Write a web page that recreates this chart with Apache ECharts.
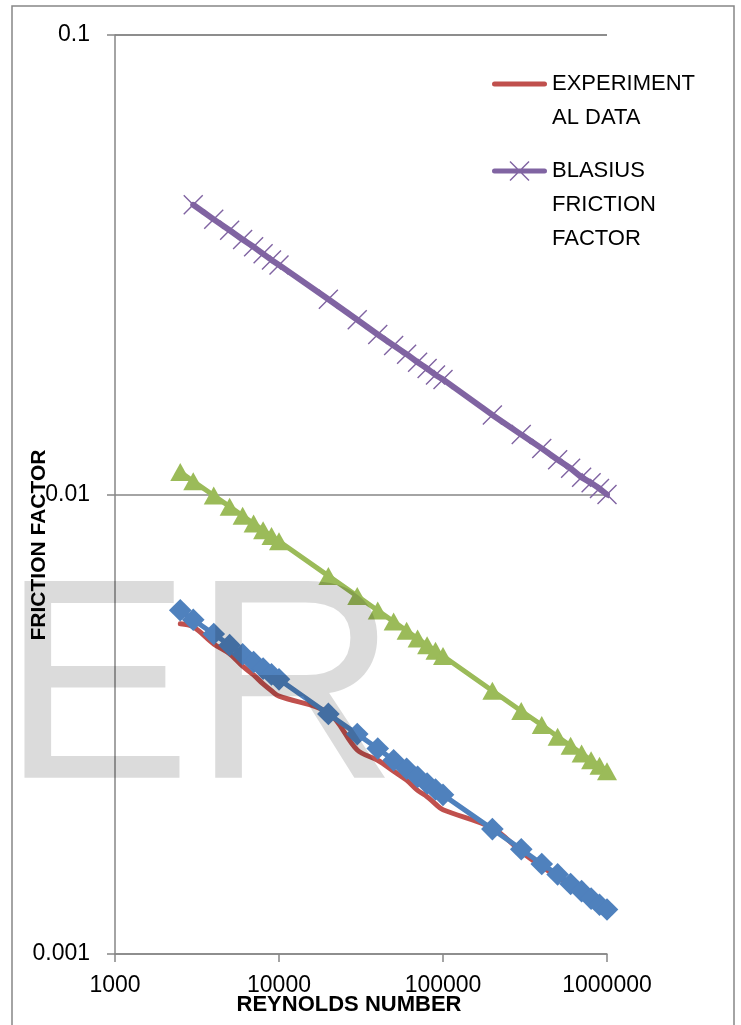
<!DOCTYPE html>
<html>
<head>
<meta charset="utf-8">
<script src="https://cdn.jsdelivr.net/npm/echarts@6/dist/echarts.min.js"></script>
<style>
html,body{margin:0;padding:0;background:#fff;}
#chart{width:741px;height:1025px;}
</style>
</head>
<body>
<div id="chart"></div>
<script>
// Reynolds numbers (x)
const reynolds = [2500, 3000, 4000, 5000, 6000, 7000, 8000, 9000, 10000,
  20000, 30000, 40000, 50000, 60000, 70000, 80000, 90000, 100000,
  200000, 300000, 400000, 500000, 600000, 700000, 800000, 900000, 1000000];
// Experimental data (red, smooth line)
const experimental = [0.00523, 0.00515, 0.00473, 0.00450, 0.00423, 0.00405, 0.00387, 0.00374, 0.00364,
  0.00335, 0.00278, 0.00264, 0.00250, 0.00239, 0.00227, 0.00220, 0.00212, 0.00206,
  0.00188, 0.00167, 0.00155, 0.00147, 0.00141, 0.00136, 0.00131, 0.00127, 0.00124];
// Blasius friction factor (purple, starts at Re = 3000)
const blasiusRe = [3000, 4000, 5000, 6000, 7000, 8000, 9000, 10000,
  20000, 30000, 40000, 50000, 60000, 70000, 80000, 90000, 100000,
  200000, 300000, 400000, 500000, 600000, 700000, 800000, 900000, 1000000];
const blasius = [0.0427, 0.0397, 0.0376, 0.0359, 0.0346, 0.0334, 0.0324, 0.0316,
  0.0266, 0.0240, 0.0223, 0.0211, 0.0202, 0.0194, 0.0188, 0.0182, 0.0178,
  0.0149, 0.0135, 0.0126, 0.0119, 0.0114, 0.0109, 0.0106, 0.0103, 0.0100];
// Green triangles series
const seriesGreen = [0.01119, 0.01069, 0.00995, 0.00941, 0.00899, 0.00865, 0.00836, 0.00812, 0.00791,
  0.00665, 0.00601, 0.00559, 0.00529, 0.00505, 0.00486, 0.00470, 0.00457, 0.00445,
  0.00374, 0.00338, 0.00315, 0.00297, 0.00284, 0.00273, 0.00264, 0.00257, 0.00250];
// Blue diamonds series
const seriesBlue = [0.00560, 0.00534, 0.00497, 0.00470, 0.00449, 0.00432, 0.00418, 0.00406, 0.00396,
  0.00333, 0.00301, 0.00280, 0.00264, 0.00253, 0.00243, 0.00235, 0.00228, 0.00222,
  0.00187, 0.00169, 0.00157, 0.00149, 0.00142, 0.00137, 0.00132, 0.00128, 0.00125];

const xTickLabels = ['1000', '10000', '100000', '1000000'];
const yTickLabels = ['0.001', '0.01', '0.1'];

const pair = (xs, ys) => xs.map((x, i) => [x, ys[i]]);

const FONT = '"Liberation Sans", Arial, sans-serif';
const GRAY = '#868686';
const xSymbol = 'path://M1,0 L10,9 L19,0 L20,1 L11,10 L20,19 L19,20 L10,11 L1,20 L0,19 L9,10 L0,1 Z';
const lineIcon = 'path://M2.5,0 L52.5,0 A2.5,2.5 0 0 1 52.5,5 L2.5,5 A2.5,2.5 0 0 1 2.5,0 Z';
const lineXIcon = 'path://M2.5,7.5 L52.5,7.5 A2.5,2.5 0 0 1 52.5,12.5 L2.5,12.5 A2.5,2.5 0 0 1 2.5,7.5 Z ' +
  'M18.5,0 L27.5,9 L36.5,0 L37.5,1 L28.5,10 L37.5,19 L36.5,20 L27.5,11 L18.5,20 L17.5,19 L26.5,10 L17.5,1 Z ' +
  'M0,10 L0.01,10 L0.01,10.01 Z M55,10 L54.99,10 L54.99,10.01 Z';

const chart = echarts.init(document.getElementById('chart'), null, {renderer: 'canvas'});
chart.setOption({
  animation: false,
  backgroundColor: '#ffffff',
  grid: {left: 115, right: 134, top: 35, bottom: 71, containLabel: false},
  xAxis: {
    type: 'log', logBase: 10, min: 1000, max: 1000000, interval: 1,
    axisLine: {show: true, lineStyle: {color: GRAY, width: 1.5}},
    axisTick: {show: true, inside: false, length: 8, lineStyle: {color: GRAY, width: 1.5}},
    axisLabel: {
      margin: 20, color: '#000', fontSize: 23, fontFamily: FONT,
      formatter: v => { const k = Math.round(Math.log10(v)) - 3; return xTickLabels[k] !== undefined ? xTickLabels[k] : ''; }
    },
    splitLine: {show: false},
    minorTick: {show: false}
  },
  yAxis: {
    type: 'log', logBase: 10, min: 0.001, max: 0.1, interval: 1,
    axisLine: {show: true, lineStyle: {color: GRAY, width: 1.5}},
    axisTick: {show: true, inside: false, length: 8, lineStyle: {color: GRAY, width: 1.5}},
    axisLabel: {
      margin: 25, color: '#000', fontSize: 23, fontFamily: FONT,
      formatter: v => { const k = Math.round(Math.log10(v)) + 3; return yTickLabels[k] !== undefined ? yTickLabels[k] : ''; }
    },
    splitLine: {show: true, lineStyle: {color: GRAY, width: 1.5}}
  },
  legend: [
    {
      data: [{name: 'EXPERIMENTAL DATA', icon: lineIcon}], orient: 'vertical', left: 487, top: 28,
      itemWidth: 55, itemHeight: 5, itemGap: 0,
      formatter: () => '\nEXPERIMENT\nAL DATA',
      textStyle: {fontSize: 22, fontFamily: FONT, color: '#000', lineHeight: 34}
    },
    {
      data: [{name: 'BLASIUS FRICTION FACTOR', icon: lineXIcon}], orient: 'vertical', left: 487, top: 81,
      itemWidth: 55, itemHeight: 20, itemGap: 0,
      formatter: () => '\n\nBLASIUS\nFRICTION\nFACTOR',
      textStyle: {fontSize: 22, fontFamily: FONT, color: '#000', lineHeight: 34}
    }
  ],
  series: [
    {
      name: 'EXPERIMENTAL DATA', type: 'line', smooth: 0.35, symbol: 'none',
      data: pair(reynolds, experimental),
      lineStyle: {color: '#C0504D', width: 5, cap: 'round', join: 'round'},
      itemStyle: {color: '#C0504D'}, z: 2
    },
    {
      name: 'BLASIUS FRICTION FACTOR', type: 'line', symbol: xSymbol, symbolSize: 20,
      data: pair(blasiusRe, blasius),
      lineStyle: {color: '#8064A2', width: 6, cap: 'round'},
      itemStyle: {color: '#8064A2'}, z: 3
    },
    {
      name: 'Series3', type: 'line', symbol: 'triangle', symbolSize: [20, 18],
      data: pair(reynolds, seriesGreen),
      lineStyle: {color: '#9BBB59', width: 5},
      itemStyle: {color: '#9BBB59'}, z: 4
    },
    {
      name: 'Series4', type: 'line', symbol: 'rect', symbolSize: 16, symbolRotate: 45,
      data: pair(reynolds, seriesBlue),
      lineStyle: {color: '#4F81BD', width: 5},
      itemStyle: {color: '#4F81BD'}, z: 5
    }
  ],
  graphic: [
    {
      type: 'rect', silent: true, z: -10,
      shape: {x: 12, y: 6, width: 722, height: 1040},
      style: {fill: 'none', stroke: GRAY, lineWidth: 1.5}
    },
    {
      type: 'text', silent: true, z: 50,
      x: 39, y: 545, rotation: Math.PI / 2,
      style: {text: 'FRICTION FACTOR', font: 'bold 21px ' + FONT, fill: '#000', align: 'center', verticalAlign: 'middle'}
    },
    {
      type: 'text', silent: true, z: 50,
      x: 349, y: 1005,
      style: {text: 'REYNOLDS NUMBER', font: 'bold 22px ' + FONT, fill: '#000', align: 'center', verticalAlign: 'middle'}
    },
    {
      type: 'text', silent: true, z: 100,
      x: 1, y: 699,
      style: {text: 'ER', font: '286px ' + FONT, fill: 'rgba(0,0,0,0.14)', align: 'left', verticalAlign: 'middle'}
    }
  ]
});
</script>
</body>
</html>
